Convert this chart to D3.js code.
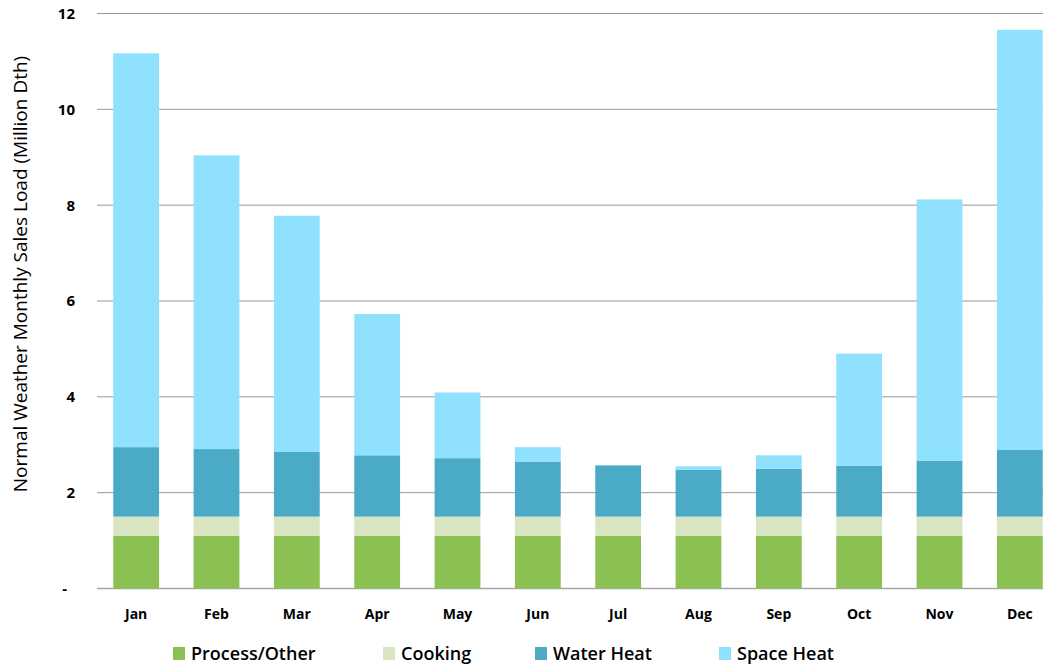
<!DOCTYPE html>
<html>
<head>
<meta charset="utf-8">
<script src="https://cdn.jsdelivr.net/npm/d3@7"></script>
<style>
  body { margin: 0; background: #fff; }
  text { font-family: "Open Sans", "Noto Sans", sans-serif; fill: #000; }
</style>
</head>
<body>
<div id="chart"></div>
<script>
const months = ['Jan','Feb','Mar','Apr','May','Jun','Jul','Aug','Sep','Oct','Nov','Dec'];
const processOther = [1.1,1.1,1.1,1.1,1.1,1.1,1.1,1.1,1.1,1.1,1.1,1.1];
const cooking = [0.4,0.4,0.4,0.4,0.4,0.4,0.4,0.4,0.4,0.4,0.4,0.4];
const waterHeat = [1.45,1.41,1.35,1.28,1.22,1.15,1.07,0.98,1.0,1.06,1.17,1.39];
const spaceHeat = [8.22,6.13,4.93,2.95,1.37,0.30,0.0,0.07,0.28,2.34,5.45,8.77];
const yTicks = [0,2,4,6,8,10,12];

const seriesNames = ['Process/Other','Cooking','Water Heat','Space Heat'];
const colors = ['#8bc152','#d9e4c1','#4babc6','#8fe1fd'];

const width = 1049, height = 668;
const svg = d3.select('#chart').append('svg')
    .attr('width', width)
    .attr('height', height);

const table = months.map((m, i) => ({
  month: m,
  'Process/Other': processOther[i],
  'Cooking': cooking[i],
  'Water Heat': waterHeat[i],
  'Space Heat': spaceHeat[i]
}));
const stacked = d3.stack().keys(seriesNames)(table);

const xScale = d3.scaleBand()
    .domain(months)
    .range([96, 1060])
    .paddingInner(0.43)
    .paddingOuter(0.215);
const yScale = d3.scaleLinear()
    .domain([0, 12])
    .range([588.5, 13.5]);

// gridlines
svg.append('g')
    .selectAll('line')
    .data(yTicks)
    .enter()
    .append('line')
    .attr('x1', 97)
    .attr('x2', 1043)
    .attr('y1', d => yScale(d))
    .attr('y2', d => yScale(d))
    .attr('stroke', d => d === 0 ? '#a6a6a6' : '#9a9a9a')
    .attr('stroke-width', d => d === 0 ? 1.5 : 1);

// y tick labels
svg.append('g')
    .selectAll('text')
    .data(yTicks)
    .enter()
    .append('text')
    .attr('x', d => d === 0 ? 67 : 75)
    .attr('y', d => yScale(d))
    .attr('dy', '0.36em')
    .style('text-anchor', 'end')
    .style('font-size', '15px')
    .style('font-weight', 'bold')
    .text(d => d === 0 ? '-' : d);

// bars
svg.append('g')
    .selectAll('g')
    .data(stacked)
    .enter()
    .append('g')
    .attr('fill', (d, i) => colors[i])
    .selectAll('rect')
    .data(d => d)
    .enter()
    .append('rect')
    .attr('x', d => xScale(d.data.month))
    .attr('y', d => yScale(d[1]))
    .attr('height', d => yScale(d[0]) - yScale(d[1]))
    .attr('width', xScale.bandwidth());

// x labels
svg.append('g')
    .selectAll('text')
    .data(months)
    .enter()
    .append('text')
    .attr('x', d => xScale(d) + xScale.bandwidth() / 2)
    .attr('y', 619)
    .style('text-anchor', 'middle')
    .style('font-size', '14px')
    .style('font-weight', 'bold')
    .text(d => d);

// y title
svg.append('text')
    .attr('transform', 'translate(27, 274) rotate(-90)')
    .style('text-anchor', 'middle')
    .style('font-size', '19px')
    .text('Normal Weather Monthly Sales Load (Million Dth)');

// legend
const legendX = [173, 383, 535, 719];
const legend = svg.append('g')
    .selectAll('g')
    .data(seriesNames)
    .enter()
    .append('g')
    .attr('transform', (d, i) => `translate(${legendX[i]}, 647)`);
legend.append('rect')
    .attr('width', 12)
    .attr('height', 13)
    .attr('fill', (d, i) => colors[i]);
legend.append('text')
    .attr('x', 18)
    .attr('y', 13)
    .style('font-size', '18px')
    .style('font-weight', '600')
    .text(d => d);
</script>
</body>
</html>
